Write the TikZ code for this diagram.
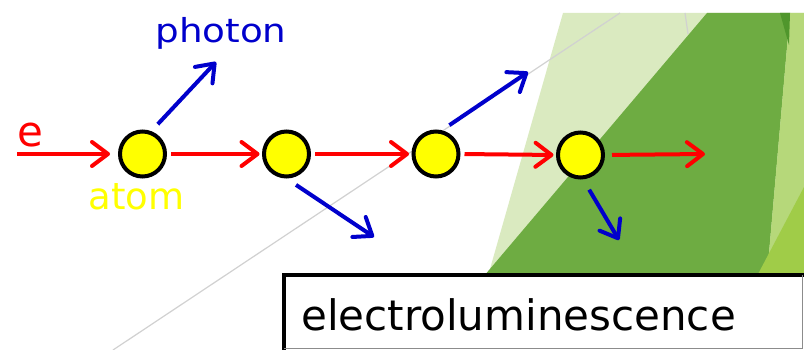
\documentclass[tikz,border=0pt]{standalone}
\usepackage{fontspec}
\setmainfont{DejaVu Sans}
\usetikzlibrary{arrows.meta}
\definecolor{ered}{RGB}{255,0,0}
\definecolor{pblue}{RGB}{0,0,204}
\definecolor{ayellow}{RGB}{255,255,0}
\definecolor{glight}{RGB}{218,234,192}
\definecolor{gdark}{RGB}{110,172,66}
\definecolor{gstripe}{RGB}{182,216,122}
\definecolor{gdeep}{RGB}{80,150,44}
\definecolor{gyellow}{RGB}{160,204,72}
\tikzset{
  atomnode/.style={circle, draw=black, line width=4pt, fill=ayellow, minimum size=45pt, inner sep=0pt},
  barbtip/.style={-{Straight Barb[length=16pt,width=24pt,line cap=round,line join=round]}},
  electron/.style={draw=ered, line width=4pt, barbtip},
  photon/.style={draw=pblue, line width=4pt, barbtip},
  bgline/.style={draw=black!18, line width=1.2pt},
  lbl/.style={inner sep=0pt, anchor=base}
}
\begin{document}
\begin{tikzpicture}[x=1pt,y=-1pt]
\useasboundingbox (0,0) rectangle (804,350);
\fill[white] (0,0) rectangle (804,350);
% background green shapes
\fill[glight] (563,13) -- (804,13) -- (804,276) -- (488,276) -- cycle;
\fill[gdark] (707,13) -- (790,13) -- (767,276) -- (484,276) -- cycle;
\fill[gstripe] (790,13) -- (804,13) -- (804,276) -- (767,276) -- cycle;
\fill[gdeep] (780,13) -- (790,13) -- (789,45) -- cycle;
\fill[gyellow] (757,276) -- (804,187) -- (804,276) -- cycle;
\draw[bgline] (113,350) -- (620,13);
\draw[bgline] (685,13) -- (688,34);
% atoms
\node[atomnode] (a1) at (142.5,154) {};
\node[atomnode] (a2) at (286.5,154) {};
\node[atomnode] (a3) at (436,154) {};
\node[atomnode] (a4) at (580.5,155) {};
\coordinate (ein) at (17,154);
\coordinate (eout) at (705,154);
\coordinate (p1) at (216,62);
\coordinate (p2) at (374,237);
\coordinate (p3) at (528,72);
\coordinate (p4) at (619,240);
% electron path
\draw[electron, shorten >=8pt] (ein) -- (a1.west);
\draw[electron, shorten <=4pt, shorten >=2.5pt] (a1.east) -- (a2.west);
\draw[electron, shorten <=4pt, shorten >=2.5pt] (a2.east) -- (a3.west);
\draw[electron, shorten <=4pt, shorten >=2.5pt] (a3.east) -- (a4.west);
\draw[electron, shorten <=7pt] (a4.east) -- (eout);
% photons
\draw[photon, shorten <=9.5pt] (a1.69) -- (p1);
\draw[photon, shorten <=11.5pt] (a2.-90) -- (p2);
\draw[photon, shorten <=9pt] (a3.76) -- (p3);
\draw[photon, shorten <=12pt] (a4.-84) -- (p4);
% labels
\node[lbl, text=ered, font=\fontsize{42}{48}\selectfont] (le) at (30.5,147) {e};
\node[lbl, text=pblue, font=\fontsize{33}{40}\selectfont] (lp) at (221,43) {\scalebox{1.13}[1]{photon}};
\node[lbl, text=ayellow, font=\fontsize{37}{44}\selectfont] (la) at (136.5,210) {atom};
% box
\node[fill=white, minimum width=518.5pt, minimum height=74pt, inner sep=0pt, anchor=north west] (box) at (284,274.5) {};
\draw[line width=4pt, line cap=rect] (box.south west) -- (box.north west) -- (box.north east);
\draw[black!45, line width=1pt] (box.north east) -- (box.south east) -- (box.south west);
\node[inner sep=0pt, anchor=base west, font=\fontsize{42}{48}\selectfont] (lbox) at (301,330) {electroluminescence};
\end{tikzpicture}
\end{document}
